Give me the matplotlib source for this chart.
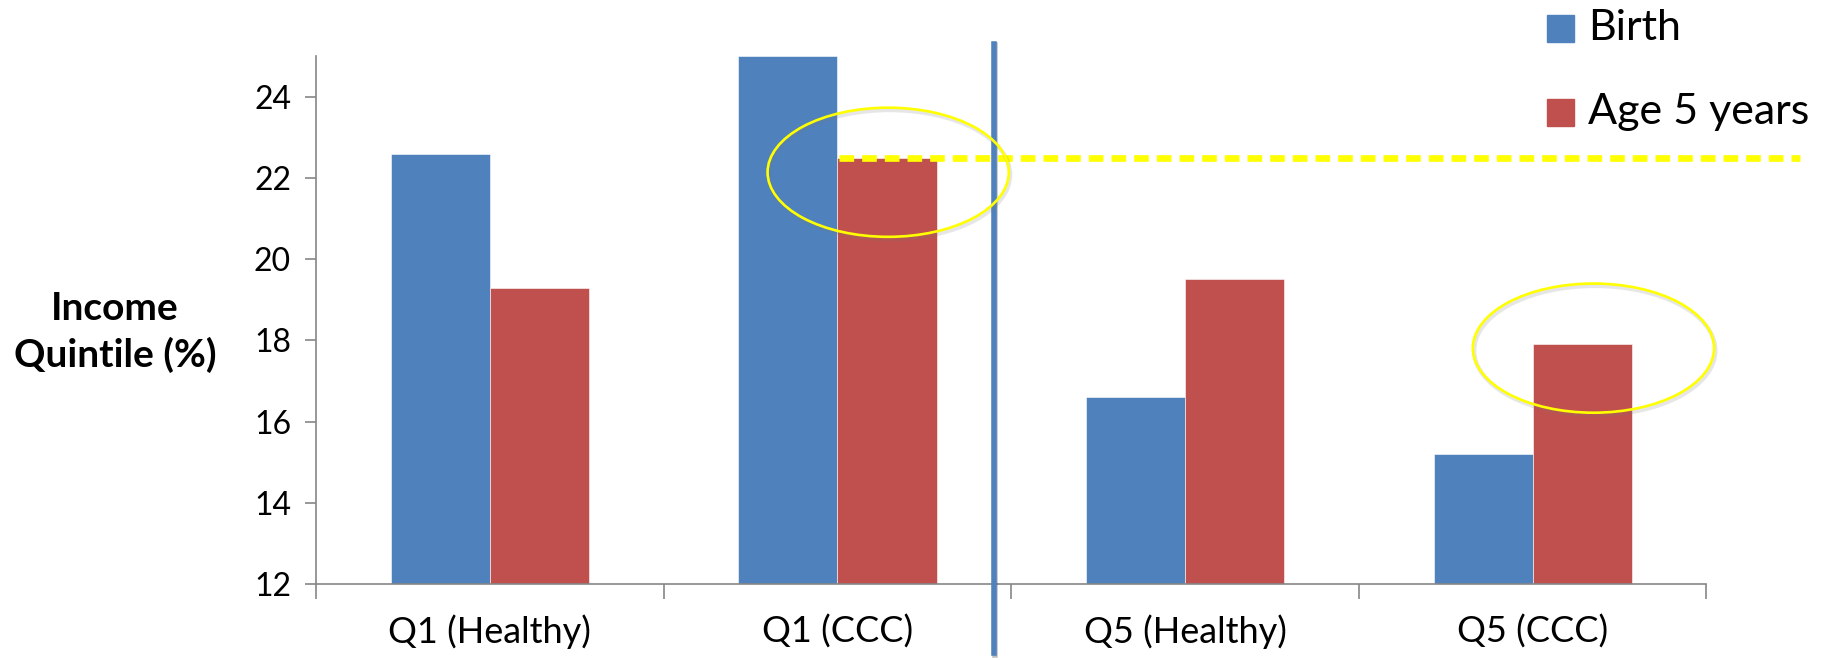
import matplotlib
matplotlib.use("Agg")
import matplotlib.pyplot as plt
import matplotlib.patheffects as pe
from matplotlib.patches import Ellipse, Rectangle
import numpy as np

plt.rcParams["font.family"] = ["Lato", "DejaVu Sans"]

# Data
categories = ["Q1 (Healthy)", "Q1 (CCC)", "Q5 (Healthy)", "Q5 (CCC)"]
birth = [22.6, 25.0, 16.6, 15.2]
age5 = [19.3, 22.5, 19.5, 17.9]
series_names = ["Birth", "Age 5 years"]
y_ticks = [12, 14, 16, 18, 20, 22, 24]

blue = "#4F81BD"
red = "#C0504D"
axis_gray = "#868686"
yellow = "#FFFF00"

fig = plt.figure(figsize=(18.27, 6.6), dpi=100)
ax = fig.add_axes([0.173, 0.115, 0.761, 0.80])

x = np.arange(len(categories))
w = 0.285
ax.bar(x - w / 2, birth, w, color=blue, edgecolor="white", linewidth=0.4, zorder=2)
ax.bar(x + w / 2, age5, w, color=red, edgecolor="white", linewidth=0.4, zorder=2)

ax.set_xlim(-0.5, 3.5)
ax.set_ylim(12, 25)
ax.set_yticks(y_ticks)
ax.set_yticklabels([str(t) for t in y_ticks], fontsize=23)

# category boundary ticks, labels at centres
ax.set_xticks(np.arange(-0.5, 4.0, 1.0))
ax.set_xticklabels([])
ax.set_xticks(x, minor=True)
ax.set_xticklabels(categories, minor=True, fontsize=26)
ax.tick_params(axis="x", which="major", length=11, width=1.2, color=axis_gray, direction="out")
ax.tick_params(axis="x", which="minor", length=0, pad=22)
ax.tick_params(axis="y", length=8, width=1.2, color=axis_gray, direction="out", pad=10)

for s in ["top", "right"]:
    ax.spines[s].set_visible(False)
for s in ["left", "bottom"]:
    ax.spines[s].set_color(axis_gray)
    ax.spines[s].set_linewidth(1.2)

fig.text(0.063, 0.497, "Income\nQuintile (%)", ha="center", va="center",
         fontsize=28, fontweight="bold", linespacing=1.35)

# divider line
ax.plot([1.45, 1.45], [10.3, 25.3], color=blue, lw=4.0, clip_on=False, zorder=4,
        path_effects=[pe.SimpleLineShadow(offset=(1, -1), alpha=0.25), pe.Normal()])

# dashed reference at Q1 (CCC) age 5 level
ax.plot([1.005, 3.77], [age5[1], age5[1]], color=yellow, lw=4.8, ls=(0, (2.2, 1.2)),
        clip_on=False, zorder=5)

# highlight ellipses, with a faint offset shadow
for cx, cy in [(1.146, 22.14), (3.175, 17.81)]:
    sh = Ellipse((cx + 0.004, cy - 0.06), 0.694, 3.18, fill=False, edgecolor="#777777",
                 lw=3.0, alpha=0.18, clip_on=False, zorder=6)
    ax.add_patch(sh)
    e = Ellipse((cx, cy), 0.694, 3.18, fill=False, edgecolor=yellow, lw=1.9,
                clip_on=False, zorder=7)
    ax.add_patch(e)

# legend
for i, (name, col) in enumerate(zip(series_names, [blue, red])):
    yc = 1 - (28 + 84 * i) / 660
    fig.add_artist(Rectangle((1547 / 1827, yc - 13.5 / 660), 27 / 1827, 27 / 660,
                             transform=fig.transFigure, color=col))
    fig.text(1588 / 1827, yc, name, ha="left", va="center", fontsize=31)

fig.savefig("out.png", dpi=100)
